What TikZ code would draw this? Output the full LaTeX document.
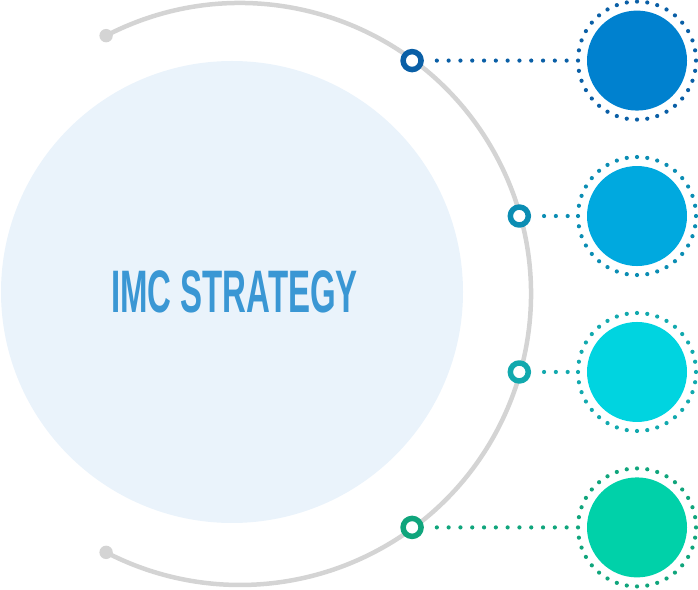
\documentclass[tikz,border=0pt]{standalone}
\usepackage{fontspec}
\setmainfont{Liberation Sans}
\definecolor{paleblue}{HTML}{EAF3FB}
\definecolor{arcgray}{HTML}{D4D4D4}
\definecolor{titleblue}{HTML}{3A97D4}
\definecolor{fillA}{HTML}{0081CF}
\definecolor{dotA}{HTML}{0A5FA6}
\definecolor{fillB}{HTML}{00A9DF}
\definecolor{dotB}{HTML}{0B8DB3}
\definecolor{fillC}{HTML}{00D4E0}
\definecolor{dotC}{HTML}{12A9AE}
\definecolor{fillD}{HTML}{00D1A9}
\definecolor{dotD}{HTML}{10A57C}
\begin{document}
\begin{tikzpicture}[x=1pt, y=1pt, line join=round, line cap=round,
	ring/.style={circle, draw=#1, line width=5.5, fill=white, minimum size=18, inner sep=0},
	ball/.style={circle, fill=#1, minimum size=100, inner sep=0},
	dotline/.style={draw=#1, line width=4.2, dash pattern=on 0pt off 11.8pt, shorten <=13, shorten >=8.7}]
	\useasboundingbox (0,0) rectangle (698,589);
	\path (232,297) coordinate (M) 
	(240,295) coordinate (O);
	\fill[paleblue] (M) circle (231);
	\draw[arcgray, line width=4.5] (O) ++(117.4:291) arc (117.4:-117.4:291);
	\fill[arcgray] (O) ++(117.4:291) circle (6.7)
	(O) ++(-117.4:291) circle (6.7);
	\node[text=titleblue, font=\bfseries\fontsize{60}{60}\selectfont] (title) at (234.5,297) {\scalebox{0.55}[1]{IMC STRATEGY}};
	\foreach \i/\ang/\fc/\dc in {1/53.6/fillA/dotA, 2/15.6/fillB/dotB, 3/-15.6/fillC/dotC, 4/-53.6/fillD/dotD}
	{
		\path (O) ++(\ang:290) node[ring=\dc] (r\i) {};
		\node[ball=\fc] (c\i) at (637,{295+290*sin(\ang)}) {};
		\foreach \a in {0,10,...,350}
		\fill[\dc] (c\i.center) ++(\a:59) circle (2.1);
		\draw[dotline=\dc] (r\i) -- (c\i);
	}
\end{tikzpicture}
\end{document}
